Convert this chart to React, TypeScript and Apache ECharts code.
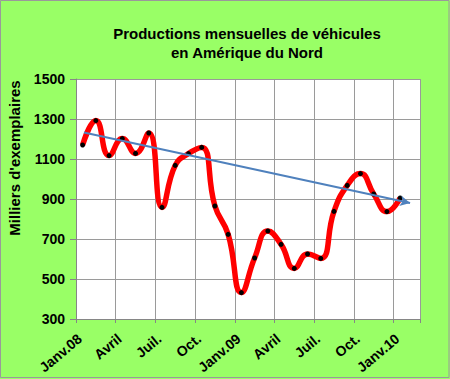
import React, { useEffect, useRef } from "react";
import * as echarts from "echarts";

const months = [
  "Janv.08", "Févr.08", "Mars08", "Avril08", "Mai08", "Juin08", "Juil.08", "Août08", "Sept.08", "Oct.08", "Nov.08", "Déc.08",
  "Janv.09", "Févr.09", "Mars09", "Avril09", "Mai09", "Juin09", "Juil.09", "Août09", "Sept.09", "Oct.09", "Nov.09", "Déc.09",
  "Janv.10",
];
const production = [
  1170, 1292, 1117, 1202, 1128, 1230, 858, 1068, 1127, 1158, 865, 723,
  432, 605, 740, 673, 553, 625, 603, 838, 968, 1027, 925, 837,
  905,
];
const tickLabels = ["Janv.08", "Avril", "Juil.", "Oct.", "Janv.09", "Avril", "Juil.", "Oct.", "Janv.10"];
const yTicks = [300, 500, 700, 900, 1100, 1300, 1500];
const trendStart = [0.6, 1232];
const trendEnd = [25.25, 880];

const FONT = "Arial, 'Liberation Sans', sans-serif";

export default function App() {
  const ref = useRef<HTMLDivElement>(null);
  useEffect(() => {
    if (!ref.current) return;
    const chart = echarts.init(ref.current, null, { renderer: "svg" });
    const points = production.map((v, i) => [i + 0.5, v, months[i]]);
    chart.setOption({
      animation: false,
      backgroundColor: "#99FF66",
      graphic: [
        {
          type: "rect",
          shape: { x: 0.5, y: 0.5, width: 448.5, height: 377 },
          style: { fill: "none", stroke: "#9a9a9a", lineWidth: 1 },
          silent: true,
        },
        {
          type: "text",
          x: 247,
          y: 33,
          style: {
            text: "Productions mensuelles de véhicules",
            font: `bold 15px ${FONT}`,
            fill: "#000",
            textAlign: "center",
            textVerticalAlign: "middle",
          },
        },
        {
          type: "text",
          x: 247,
          y: 52,
          style: {
            text: "en Amérique du Nord",
            font: `bold 15px ${FONT}`,
            fill: "#000",
            textAlign: "center",
            textVerticalAlign: "middle",
          },
        },
        {
          type: "text",
          x: 14.5,
          y: 158,
          rotation: Math.PI / 2,
          style: {
            text: "Milliers d'exemplaires",
            font: `bold 15px ${FONT}`,
            fill: "#000",
            textAlign: "center",
            textVerticalAlign: "middle",
          },
        },
      ],
      grid: {
        left: 76,
        top: 79,
        right: 30,
        bottom: 60,
        show: true,
        backgroundColor: "#ffffff",
        borderWidth: 0,
      },
      xAxis: {
        type: "value",
        min: 0,
        max: 26,
        interval: 3,
        axisLine: { show: true, lineStyle: { color: "#868686", width: 1 } },
        axisTick: { show: true, length: 4, lineStyle: { color: "#868686" } },
        splitLine: { show: true, lineStyle: { color: "#9a9a9a", width: 1 } },
        axisLabel: {
          rotate: 40,
          margin: 21,
          fontFamily: FONT,
          fontWeight: "bold",
          fontSize: 14,
          color: "#000",
          padding: [0, -5, 0, 0],
          formatter: (v: number) => {
            const k = Math.round(v / 3);
            return Math.abs(v - k * 3) < 1e-6 && k < tickLabels.length ? tickLabels[k] : "";
          },
        },
      },
      yAxis: {
        type: "value",
        min: yTicks[0],
        max: yTicks[yTicks.length - 1],
        interval: 200,
        axisLine: { show: true, lineStyle: { color: "#868686", width: 1 } },
        axisTick: { show: true, length: 6, lineStyle: { color: "#868686" } },
        splitLine: { show: true, lineStyle: { color: "#9a9a9a", width: 1 } },
        axisLabel: {
          margin: 11,
          fontFamily: FONT,
          fontWeight: "bold",
          fontSize: 14,
          color: "#000",
          formatter: (v: number) => String(v),
        },
      },
      series: [
        {
          type: "line",
          name: "Production",
          data: points,
          smooth: 0.5,
          symbol: "circle",
          symbolSize: 5,
          showSymbol: true,
          lineStyle: { color: "#FF0000", width: 5.5 },
          itemStyle: { color: "#000000" },
          z: 2,
        },
        {
          type: "line",
          name: "Tendance",
          data: [],
          z: 3,
          markLine: {
            silent: true,
            symbol: ["none", "arrow"],
            symbolSize: [8, 10],
            label: { show: false },
            lineStyle: { color: "#4F81BD", width: 2, type: "solid" },
            data: [[{ coord: trendStart }, { coord: trendEnd }]],
          },
        },
      ],
    });
    return () => chart.dispose();
  }, []);
  return (
    <div
      ref={ref}
      style={{ position: "absolute", left: 0, top: 0, width: 450, height: 379 }}
    />
  );
}
